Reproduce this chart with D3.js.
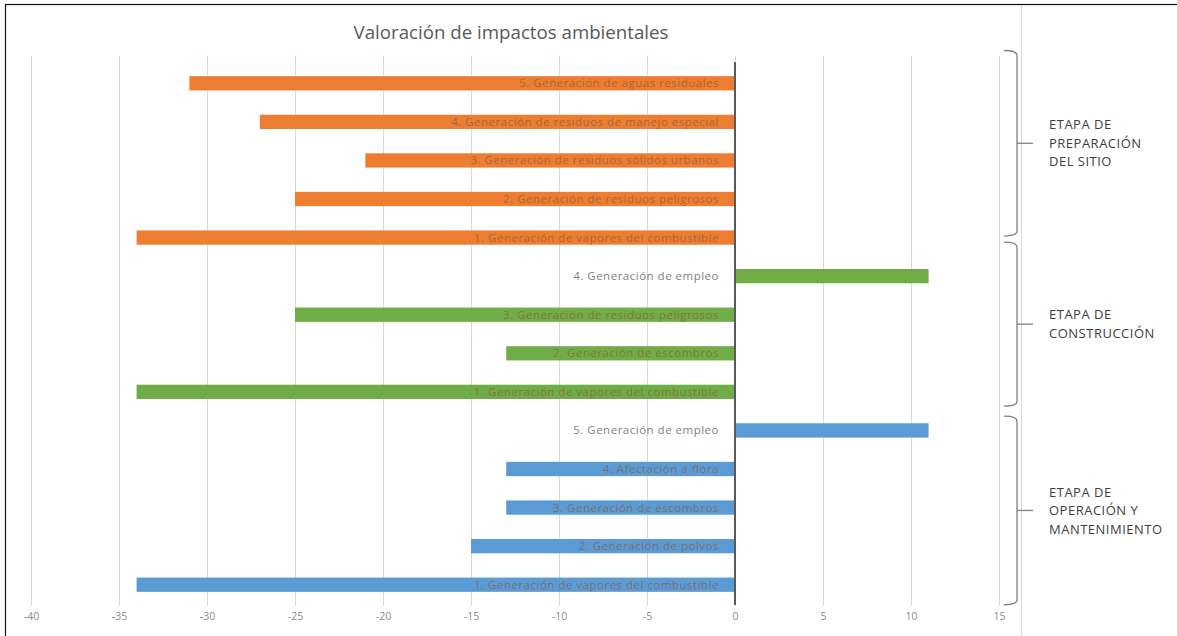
<!DOCTYPE html>
<html><head><meta charset="utf-8">
<script src="https://cdn.jsdelivr.net/npm/d3@7"></script>
<style>body{margin:0;background:#fff;}svg{display:block;font-family:"Open Sans",sans-serif;}</style>
</head><body><svg id="c" width="1177" height="636"></svg>
<script>
const title = "Valoración de impactos ambientales";
const labels = [
  "5. Generación de aguas residuales",
  "4. Generación de residuos de manejo especial",
  "3. Generación de residuos sólidos urbanos",
  "2. Generación de residuos peligrosos",
  "1. Generación de vapores del combustible",
  "4. Generación de empleo",
  "3. Generación de residuos peligrosos",
  "2. Generación de escombros",
  "1. Generación de vapores del combustible",
  "5. Generación de empleo",
  "4. Afectación a flora",
  "3. Generación de escombros",
  "2. Generación de polvos",
  "1. Generación de vapores del combustible"
];
const values = [-31, -27, -21, -25, -34, 11, -25, -13, -34, 11, -13, -13, -15, -34];
const stageOfRow = [0,0,0,0,0,1,1,1,1,2,2,2,2,2];
const stageNames = [
  ["ETAPA DE","PREPARACIÓN","DEL SITIO"],
  ["ETAPA DE","CONSTRUCCIÓN"],
  ["ETAPA DE","OPERACIÓN Y","MANTENIMIENTO"]
];
const stageColors = ["#ED7D31", "#70AD47", "#5B9BD5"];
// bracket spans in row units (row centre = index)
const bracketFrom = [-0.85, 4.12, 8.63];
const bracketTo = [3.96, 8.37, 13.52];
const xTicks = [-40,-35,-30,-25,-20,-15,-10,-5,0,5,10,15];

const svg = d3.select("#c");
const W = 1177, H = 636;
const pLeft = 31, pRight = 999, pTop = 64, pBottom = 604;

const x = d3.scaleLinear().domain([-40, 15]).range([pLeft, pRight]);
const y = d3.scaleBand().domain(d3.range(labels.length)).range([pTop, pBottom]).paddingInner(0.63).paddingOuter(0.315);
const rowY = d3.scaleLinear().domain([0, labels.length - 1]).range([y(0) + y.bandwidth()/2, y(labels.length-1) + y.bandwidth()/2]);

// frame
svg.append("rect").attr("x", 5.5).attr("y", 4.5).attr("width", W).attr("height", H + 10)
  .attr("fill", "none").attr("stroke", "#111").attr("stroke-width", 1.2);
svg.append("line").attr("x1", 1021.5).attr("x2", 1021.5).attr("y1", 5).attr("y2", H)
  .attr("stroke", "#d9d9d9");

// gridlines
svg.append("g").selectAll("line").data(xTicks).join("line")
  .attr("x1", d => Math.round(x(d)) + 0.5).attr("x2", d => Math.round(x(d)) + 0.5)
  .attr("y1", 56).attr("y2", 606).attr("stroke", "#d9d9d9").attr("stroke-width", 1);

// x axis tick labels
const xAxis = d3.axisBottom(x).tickValues(xTicks).tickSize(0).tickPadding(0).tickFormat(d => String(d));
const gx = svg.append("g").attr("transform", "translate(0,613)").call(xAxis);
gx.select(".domain").remove();
gx.selectAll("text").attr("fill", "#8c8c8c").attr("font-size", 10.5).attr("font-family", "Open Sans, sans-serif")
  .attr("dy", "0.71em");

// bars
svg.append("g").selectAll("rect").data(values).join("rect")
  .attr("x", d => x(Math.min(0, d)))
  .attr("width", d => Math.abs(x(d) - x(0)))
  .attr("y", (d, i) => y(i))
  .attr("height", y.bandwidth())
  .attr("fill", (d, i) => stageColors[stageOfRow[i]]);

// zero axis
svg.append("line").attr("x1", x(0)).attr("x2", x(0)).attr("y1", 62).attr("y2", 605)
  .attr("stroke", "#595959").attr("stroke-width", 2);

// category labels
svg.append("g").selectAll("text").data(labels).join("text")
  .attr("x", x(0) - 16)
  .attr("y", (d, i) => y(i) + y.bandwidth()/2)
  .attr("dy", "0.35em")
  .attr("text-anchor", "end")
  .attr("font-size", 11.5)
  .attr("letter-spacing", 0.5)
  .attr("fill", (d, i) => values[i] < 0 ? "#8a5a3a" : "#7f7f7f")
  .attr("fill-opacity", (d, i) => values[i] < 0 ? 0.7 : 1)
  .text(d => d);

// title
svg.append("text").attr("x", 511).attr("y", 32).attr("dy", "0.35em").attr("text-anchor", "middle")
  .attr("font-size", 18.7).attr("fill", "#595959").text(title);

// brackets
const bx = 1017;
const bg = svg.append("g").attr("fill", "none").attr("stroke", "#808080").attr("stroke-width", 1.3);
stageNames.forEach((names, k) => {
  const y0 = rowY(bracketFrom[k]), y1 = rowY(bracketTo[k]), ym = (y0 + y1) / 2;
  const p = d3.path();
  p.moveTo(bx - 13, y0);
  p.quadraticCurveTo(bx, y0, bx, y0 + 5);
  p.lineTo(bx, y1 - 5);
  p.quadraticCurveTo(bx, y1, bx - 13, y1);
  bg.append("path").attr("d", p.toString());
  bg.append("line").attr("x1", bx).attr("x2", bx + 16).attr("y1", ym).attr("y2", ym);
  const t = svg.append("text").attr("x", 1049).attr("font-size", 13).attr("letter-spacing", 0.5).attr("fill", "#404040");
  names.forEach((n, j) => {
    t.append("tspan").attr("x", 1049)
      .attr("y", ym + (j - (names.length - 1) / 2) * 18.5)
      .attr("dy", "0.35em").text(n);
  });
});
</script></body></html>
